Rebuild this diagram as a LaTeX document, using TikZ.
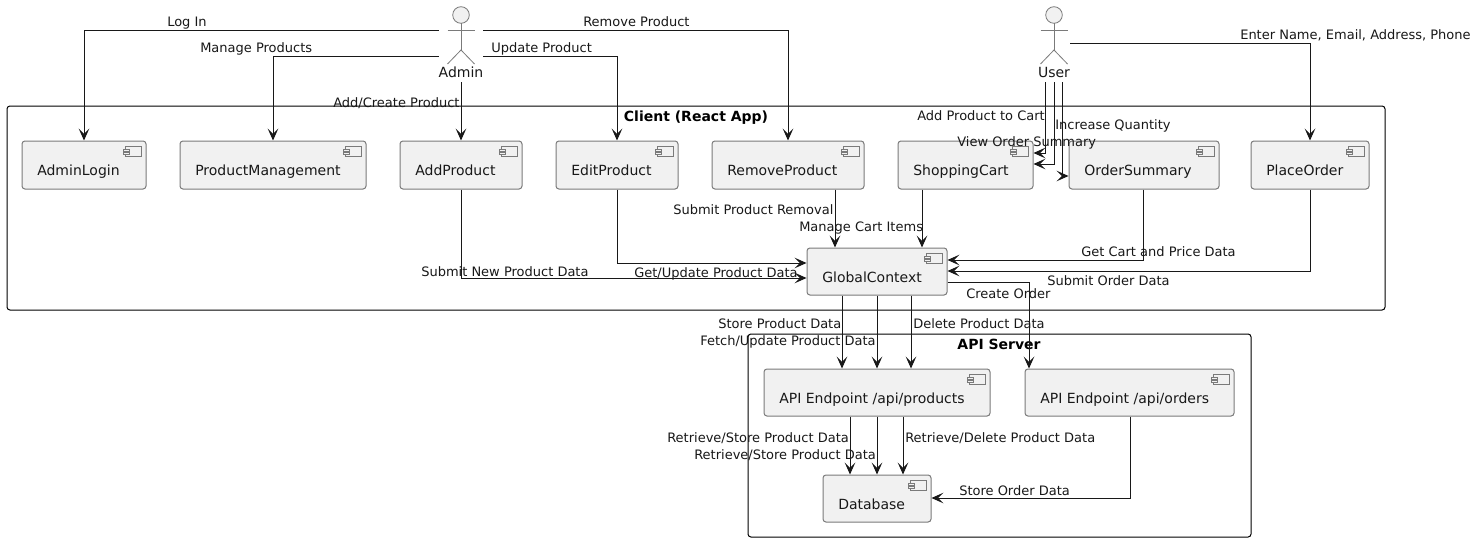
\documentclass[tikz,border=0pt]{standalone}
\usepackage{fontspec}
\setmainfont{DejaVu Sans}
\usetikzlibrary{arrows.meta}
\definecolor{lineclr}{HTML}{181818}
\definecolor{boxfill}{HTML}{F1F1F1}
\definecolor{boxline}{HTML}{7A7A7A}
\tikzset{
  x=0.75pt,y=-0.75pt,
  arr/.style={draw=lineclr,line width=0.75pt,-{Stealth[length=9pt,width=8pt,inset=4pt]}},
  lbl/.style={anchor=base west,inner sep=0pt,font=\fontsize{9.75}{11}\selectfont,text=lineclr},
  compbox/.style={draw=boxline,fill=boxfill,line width=0.75pt,rounded corners=2.2pt,inner sep=0pt},
  comptext/.style={anchor=base west,inner sep=0pt,font=\fontsize{10.5}{12}\selectfont,text=lineclr},
  icon/.style={draw=boxline,line width=0.5pt,fill=boxfill},
  framebox/.style={draw=black,line width=0.75pt,rounded corners=2.2pt},
  ftitle/.style={anchor=base,inner sep=0pt,font=\fontsize{10.5}{12}\selectfont\bfseries,text=black},
  actorarea/.style={inner sep=0pt},
  actorline/.style={draw=boxline,line width=0.6pt},
}
% name, x1, y1, x2, y2, text
\newcommand{\compnode}[6]{%
  \node[compbox,minimum width={(#4-#2)*0.75pt},minimum height={(#5-#3)*0.75pt}] (#1) at ({(#2+#4)/2},{(#3+#5)/2}) {};
  \node[comptext] (#1text) at ({#2+15},{#3+34}) {#6};
  \draw[icon] ({#4-20.5},{#3+5.5}) rectangle ({#4-5},{#3+15.5});
  \draw[icon] ({#4-22.5},{#3+8}) rectangle ({#4-17},{#3+10.3});
  \draw[icon] ({#4-22.5},{#3+11.5}) rectangle ({#4-17},{#3+13.8});
}
% name, centre x, half width, text
\newcommand{\actornode}[4]{%
  \node[actorarea,minimum width={2*#3*0.75pt},minimum height=56.25pt] (#1) at (#2,44.5) {};
  \draw[actorline,fill=boxfill] (#2,15) circle[radius=8.3];
  \draw[actorline] (#2,23.3) -- (#2,50);
  \draw[actorline] ({#2-13.5},30) -- ({#2+13.5},30);
  \draw[actorline] ({#2-13.5},64) -- (#2,50) -- ({#2+13.5},64);
  \node[comptext,anchor=base] (#1text) at (#2,78) {#4};
}
\begin{document}
\begin{tikzpicture}
\useasboundingbox (0,0) rectangle (1477,542);
\fill[white] (0,0) rectangle (1477,542);

% frames
\node[framebox,minimum width={1378*0.75pt},minimum height={204*0.75pt},inner sep=0pt] (client) at (696,208) {};
\node[ftitle] (clienttitle) at (696,122) {Client (React App)};
\node[framebox,minimum width={503*0.75pt},minimum height={203*0.75pt},inner sep=0pt] (api) at (999.5,435.5) {};
\node[ftitle] (apititle) at (999,349) {API Server};

% components
\compnode{adminlogin}{22}{141}{146}{189}{AdminLogin}
\compnode{prodmgmt}{180}{141}{366}{189}{ProductManagement}
\compnode{addprod}{400}{141}{522}{189}{AddProduct}
\compnode{editprod}{556}{141}{678}{189}{EditProduct}
\compnode{removeprod}{712}{141}{864}{189}{RemoveProduct}
\compnode{cart}{898}{141}{1033}{189}{ShoppingCart}
\compnode{summary}{1069}{141}{1219}{189}{OrderSummary}
\compnode{placeorder}{1251}{141}{1369}{189}{PlaceOrder}
\compnode{gc}{807}{248}{947}{295}{GlobalContext}
\compnode{apiprod}{764}{369}{990}{416}{API Endpoint /api/products}
\compnode{apiord}{1025}{369}{1234}{416}{API Endpoint /api/orders}
\compnode{db}{823}{475}{931}{522}{Database}

% actors
\actornode{admin}{461}{22}{Admin}
\actornode{user}{1054}{16}{User}

% connectors
\draw[arr] (admin.west |- 0,30.5) -| (adminlogin.north);
\draw[arr] (admin.west |- 0,56.5) -| (prodmgmt.north);
\draw[arr] (admin.south) -- (addprod.north -| admin.south);
\draw[arr] (admin.east |- 0,56.5) -| (editprod.north);
\draw[arr] (admin.east |- 0,30.5) -| (removeprod.north);

\draw[arr] (user.east |- 0,43.5) -| (placeorder.north);
\draw[arr] (user.south -| 1045,0) |- (cart.east |- 0,153);
\draw[arr] (user.south) |- (cart.east |- 0,164);
\draw[arr] (user.south -| 1062,0) |- (summary.west |- 0,176);

\draw[arr] (addprod.south -| 461,0) |- (gc.west |- 0,278);
\draw[arr] (editprod.south) |- (gc.west |- 0,263);
\draw[arr] (removeprod.south -| 835,0) -- (gc.north -| 835,0);
\draw[arr] (cart.south -| 922,0) -- (gc.north -| 922,0);
\draw[arr] (summary.south -| 1143,0) |- (gc.east |- 0,260);
\draw[arr] (placeorder.south) |- (gc.east |- 0,271);

\draw[arr] (gc.south -| 842,0) -- (apiprod.north -| 842,0);
\draw[arr] (gc.south -| 877,0) -- (apiprod.north -| 877,0);
\draw[arr] (gc.south -| 911,0) -- (apiprod.north -| 911,0);
\draw[arr] (gc.east |- 0,282) -| (apiord.north -| 1029,0);

\draw[arr] (apiprod.south -| 850,0) -- (db.north -| 850,0);
\draw[arr] (apiprod.south -| 877,0) -- (db.north -| 877,0);
\draw[arr] (apiprod.south -| 903,0) -- (db.north -| 903,0);
\draw[arr] (apiord.south -| 1130,0) |- (db.east |- 0,498);

% labels
\node[lbl] (l1) at (167,27) {Log In};
\node[lbl] (l2) at (200,53) {Manage Products};
\node[lbl] (l3) at (491,53) {Update Product};
\node[lbl] (l4) at (583,27) {Remove Product};
\node[lbl] (l5) at (333,108) {Add/Create Product};
\node[lbl] (l6) at (1240,40) {Enter Name, Email, Address, Phone};
\node[lbl] (l7) at (917,120) {Add Product to Cart};
\node[lbl] (l8) at (1055,129) {Increase Quantity};
\node[lbl] (l9) at (957,146) {View Order Summary};
\node[lbl] (l10) at (673,214) {Submit Product Removal};
\node[lbl] (l11) at (799,231) {Manage Cart Items};
\node[lbl] (l12) at (634,277) {Get/Update Product Data};
\node[lbl] (l13) at (421,276) {Submit New Product Data};
\node[lbl] (l14) at (1081,256) {Get Cart and Price Data};
\node[lbl] (l15) at (1047,285) {Submit Order Data};
\node[lbl] (l16) at (966,298) {Create Order};
\node[lbl] (l17) at (718,328) {Store Product Data};
\node[lbl] (l18) at (700,345) {Fetch/Update Product Data};
\node[lbl] (l19) at (913,328) {Delete Product Data};
\node[lbl] (l20) at (667,442) {Retrieve/Store Product Data};
\node[lbl] (l21) at (694,459) {Retrieve/Store Product Data};
\node[lbl] (l22) at (905,442) {Retrieve/Delete Product Data};
\node[lbl] (l23) at (959,495) {Store Order Data};
\end{tikzpicture}
\end{document}
